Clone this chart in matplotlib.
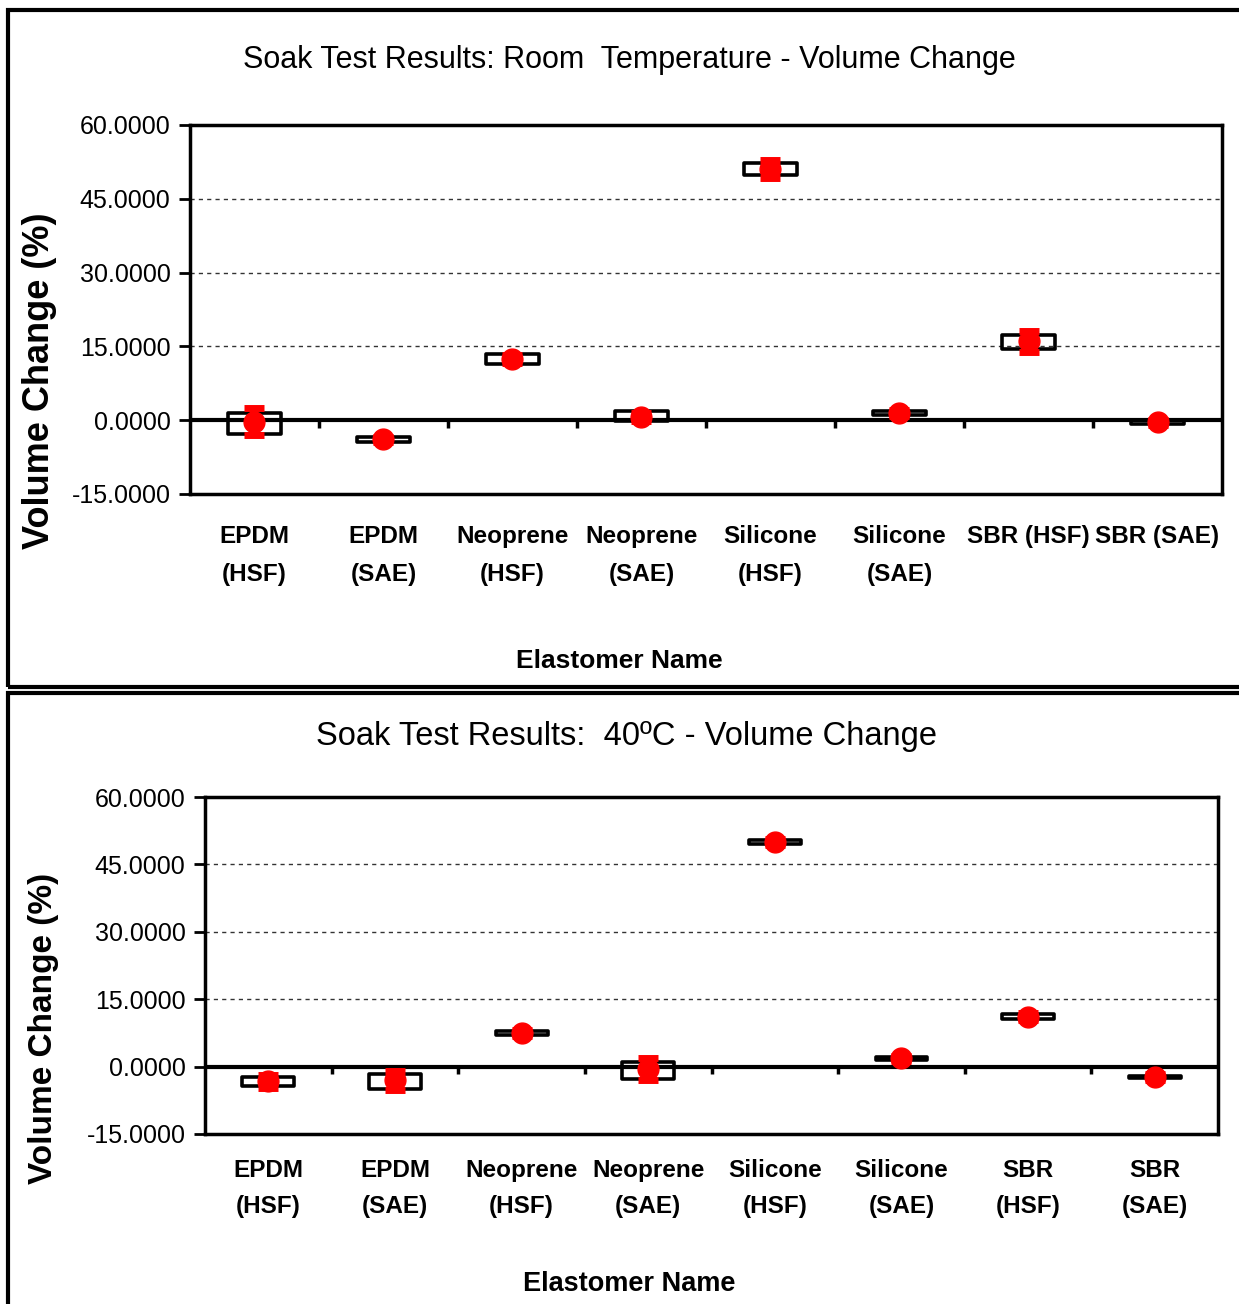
import matplotlib
matplotlib.use('Agg')
import matplotlib.pyplot as plt
from matplotlib.patches import Rectangle
import numpy as np

plt.rcParams['font.family'] = ['Liberation Sans', 'DejaVu Sans']

# categories
labels_rt = ['EPDM\n(HSF)', 'EPDM\n(SAE)', 'Neoprene\n(HSF)', 'Neoprene\n(SAE)',
             'Silicone\n(HSF)', 'Silicone\n(SAE)', 'SBR (HSF)', 'SBR (SAE)']
labels_40 = ['EPDM\n(HSF)', 'EPDM\n(SAE)', 'Neoprene\n(HSF)', 'Neoprene\n(SAE)',
             'Silicone\n(HSF)', 'Silicone\n(SAE)', 'SBR\n(HSF)', 'SBR\n(SAE)']

# room temperature - volume change (%)
mean_rt = [-0.3, -3.9, 12.5, 0.7, 51.0, 1.5, 16.0, -0.4]
err_rt = [2.8, 0.5, 0.8, 0.8, 1.8, 0.6, 2.1, 0.5]
lo_rt = [-2.9, -4.4, 11.5, -0.2, 49.9, 1.1, 14.5, -0.8]
hi_rt = [1.5, -3.4, 13.4, 1.9, 52.2, 1.9, 17.3, 0.0]

# 40 C - volume change (%)
mean_40 = [-3.3, -3.1, 7.5, -0.5, 50.0, 1.8, 11.1, -2.3]
err_40 = [1.4, 2.2, 0.6, 2.5, 0.6, 0.6, 0.8, 0.6]
lo_40 = [-4.3, -5.0, 7.1, -2.7, 49.6, 1.4, 10.6, -2.6]
hi_40 = [-2.4, -1.6, 7.9, 1.1, 50.4, 2.2, 11.6, -2.0]

yticks = [-15, 0, 15, 30, 45, 60]


def draw_panel(ax, labels, mean, err, lo, hi, pad, spacing):
    x = np.arange(1, len(labels) + 1)
    lo = np.array(lo)
    hi = np.array(hi)
    ax.bar(x, hi - lo, bottom=lo, width=0.41, fill=False, edgecolor='black',
           linewidth=2.6, joinstyle='round', zorder=3)
    ax.errorbar(x, mean, yerr=err, fmt='o', color='red', ms=15, elinewidth=6,
                capsize=7, capthick=5, zorder=4)
    ax.axhline(0, color='black', lw=3, zorder=2)
    ax.vlines(np.arange(1.5, len(labels)), 0, -1.6, color='black', lw=2.5, zorder=2)
    ax.set_xlim(0.5, len(labels) + 0.5)
    ax.set_ylim(-15, 60)
    ax.set_yticks(yticks)
    ax.set_yticklabels(['%.4f' % v for v in yticks], fontsize=18)
    ax.set_xticks(x)
    ax.set_xticklabels(labels, fontsize=17.5, fontweight='bold', linespacing=spacing)
    ax.tick_params(axis='x', length=0, pad=pad)
    ax.tick_params(axis='y', length=8, width=2, pad=6)
    for s in ax.spines.values():
        s.set_linewidth(2.5)
    ax.yaxis.grid(True, linestyle=(0, (3, 3)), color='#333333', lw=1)
    ax.set_axisbelow(True)


fig = plt.figure(figsize=(12.39, 13.04), dpi=100)

# panel borders
fig.patches.append(Rectangle((0.0065, 0.4732), 1.2, 0.519, transform=fig.transFigure,
                             fill=False, lw=3, edgecolor='black'))
fig.patches.append(Rectangle((0.0065, -0.1), 1.2, 0.5686, transform=fig.transFigure,
                             fill=False, lw=3, edgecolor='black'))

ax1 = fig.add_axes([0.1533, 0.6212, 0.833, 0.2830])
draw_panel(ax1, labels_rt, mean_rt, err_rt, lo_rt, hi_rt, 22, 1.85)
fig.text(0.508, 0.954, 'Soak Test Results: Room  Temperature - Volume Change',
         ha='center', va='center', fontsize=22)
fig.text(0.500, 0.493, 'Elastomer Name', ha='center', va='center', fontsize=19, fontweight='bold')
fig.text(0.032, 0.708, 'Volume Change (%)', ha='center', va='center', rotation=90,
         fontsize=26, fontweight='bold')

ax2 = fig.add_axes([0.1655, 0.1304, 0.8176, 0.2584])
draw_panel(ax2, labels_40, mean_40, err_40, lo_40, hi_40, 18, 1.7)
fig.text(0.506, 0.435, 'Soak Test Results:  40ºC - Volume Change',
         ha='center', va='center', fontsize=23.5)
fig.text(0.508, 0.015, 'Elastomer Name', ha='center', va='center', fontsize=19.5, fontweight='bold')
fig.text(0.035, 0.211, 'Volume Change (%)', ha='center', va='center', rotation=90,
         fontsize=24, fontweight='bold')

fig.savefig('out.png', dpi=100)
